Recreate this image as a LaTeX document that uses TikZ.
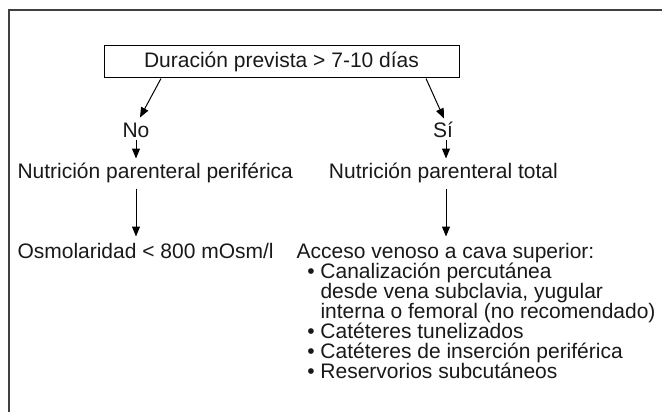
\documentclass[tikz,border=0pt]{standalone}
\usepackage{fontspec}
\setmainfont{Liberation Sans}
\usetikzlibrary{arrows.meta}
\usetikzlibrary{positioning}
\tikzstyle{txtnode} = [inner sep=0pt, text height=15pt, text depth=2pt, text=black!90]
\tikzstyle{askbox} = [draw, rectangle, minimum width=355pt, minimum height=32pt, inner sep=0pt, text=black!90]
\tikzstyle{frame} = [draw=black!75, line width=2pt]
\newcommand{\itm}{\llap{•\ }}

\begin{document}
\begin{tikzpicture}[x=1pt, y=-1pt, line width=1pt,
    font=\fontsize{21}{24}\selectfont, >={Triangle[length=10pt,width=8pt]}]
  \useasboundingbox (0,0) rectangle (662,412);
  \draw[frame] (8.5,430) |- (680,10);

  \node[askbox] (dur) at (281.5,62) {Duración prevista > 7-10 días};
  \node[txtnode, anchor=base] (no) at (136,137) {No};
  \node[txtnode, anchor=base] (si) at (443,137) {Sí};
  \draw[->] ([xshift=-120.5pt]dur.south) -- ([xshift=4pt,yshift=4pt]no.north);
  \draw[->] ([xshift=144.5pt]dur.south) -- ([xshift=1pt,yshift=3pt]si.north);

  \node[txtnode, anchor=base west] (ppn) at (17,178) {Nutrición parenteral periférica};
  \node[txtnode, right=35pt of ppn] (npt) {Nutrición parenteral total};
  \draw[->, shorten >=4pt] (no) -- (no |- ppn.north);
  \draw[->, shorten >=4pt] ([xshift=3pt]si.south) -- ([xshift=3pt]si.south |- npt.north);

  \node[txtnode, below=62pt of ppn.south west, anchor=north west] (osm) {Osmolaridad < 800 mOsm/l};
  \node[txtnode, right=22pt of osm] (acc) {Acceso venoso a cava superior:};
  \draw[->, shorten <=8pt, shorten >=6pt] (no |- ppn.south) -- (no |- osm.north);
  \draw[->, shorten <=8pt, shorten >=6pt] ([xshift=3pt]si.south |- npt.south) -- ([xshift=3pt]si.south |- acc.north);

  \foreach \y/\t [count=\i] in {278/{\itm Canalización percutánea},
      298/{desde vena subclavia, yugular},
      318/{interna o femoral (no recomendado)},
      338/{\itm Catéteres tunelizados},
      358/{\itm Catéteres de inserción periférica},
      378/{\itm Reservorios subcutáneos}}
    \node[txtnode, anchor=base west] (item\i) at (320,\y) {\t};
\end{tikzpicture}
\end{document}
